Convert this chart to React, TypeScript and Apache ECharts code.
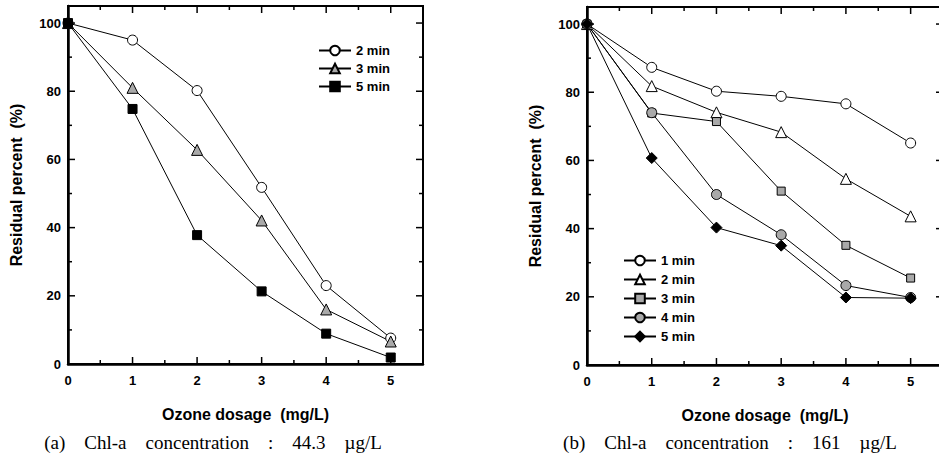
import React, { useEffect, useRef } from "react";
import * as echarts from "echarts";

// ---- data ----
const dosage = [0, 1, 2, 3, 4, 5];

const leftNames = ["2 min", "3 min", "5 min"];
const left2min = [100, 95, 80.2, 51.8, 23, 7.6];
const left3min = [100, 81, 62.8, 42.1, 16, 6.6];
const left5min = [100, 74.8, 37.8, 21.3, 8.9, 1.9];

const rightNames = ["1 min", "2 min", "3 min", "4 min", "5 min"];
const right1min = [100, 87.3, 80.3, 78.8, 76.6, 65.1];
const right2min = [100, 81.8, 74.1, 68.3, 54.6, 43.6];
const right3min = [100, 73.9, 71.4, 51.0, 35.1, 25.5];
const right4min = [100, 74.0, 50.0, 38.2, 23.3, 19.8];
const right5min = [100, 60.7, 40.3, 35.0, 19.8, 19.6];

// tick positions (axis values)
const majorX = [0, 1, 2, 3, 4, 5];
const minorX = [0.5, 1.5, 2.5, 3.5, 4.5];
const majorY = [0, 20, 40, 60, 80, 100];
const minorY = [10, 30, 50, 70, 90];

const xAxisTitle = "Ozone dosage  (mg/L)";
const yAxisTitle = "Residual percent  (%)";
const captionA = "(a)    Chl-a    concentration    :    44.3    µg/L";
const captionB = "(b)    Chl-a    concentration    :    161    µg/L";

const SANS = "'Liberation Sans', Arial, sans-serif";
const SERIF = "'Liberation Serif', 'Times New Roman', serif";

const pairs = (ys: number[]) => dosage.map((x, i) => [x, ys[i]]);

function xAxisFor(gridIndex: number) {
  return {
    type: "value",
    gridIndex,
    min: 0,
    max: 5.5,
    interval: 1,
    splitLine: { show: false },
    axisTick: { show: false },
    minorTick: { show: false },
    position: "bottom",
    axisLine: { show: true, onZero: false, lineStyle: { color: "#000", width: 2.5 } },
    axisLabel: {
      color: "#000",
      fontFamily: SANS,
      fontWeight: "bold",
      fontSize: 13,
      margin: 10,
      showMaxLabel: false,
      formatter: (v: number) => (Number.isInteger(v) && v <= 5 ? String(v) : ""),
    },
    name: xAxisTitle,
    nameLocation: "middle",
    nameGap: 42,
    nameTextStyle: { color: "#000", fontFamily: SANS, fontWeight: "bold", fontSize: 16 },
  };
}

function yAxisFor(gridIndex: number) {
  return {
    type: "value",
    gridIndex,
    min: 0,
    max: 105,
    interval: 20,
    splitLine: { show: false },
    axisTick: { show: false },
    minorTick: { show: false },
    position: "left",
    axisLine: { show: true, onZero: false, lineStyle: { color: "#000", width: 2.5 } },
    axisLabel: {
      color: "#000",
      fontFamily: SANS,
      fontWeight: "bold",
      fontSize: 13,
      margin: 7,
      showMaxLabel: false,
      formatter: (v: number) => (v % 20 === 0 && v <= 100 ? String(v) : ""),
    },
    name: yAxisTitle,
    nameLocation: "middle",
    nameGap: 44,
    nameRotate: 90,
    nameTextStyle: { color: "#000", fontFamily: SANS, fontWeight: "bold", fontSize: 16 },
  };
}

// tick marks drawn through the axes' own scales (side: 0 bottom, 1 top, 2 left, 3 right)
function tickData() {
  const out: number[][] = [];
  majorX.forEach((v) => { out.push([v, 0, 1]); out.push([v, 1, 1]); });
  minorX.forEach((v) => { out.push([v, 0, 0]); out.push([v, 1, 0]); });
  majorY.forEach((v) => { out.push([v, 2, 1]); out.push([v, 3, 1]); });
  minorY.forEach((v) => { out.push([v, 2, 0]); out.push([v, 3, 0]); });
  return out;
}

function tickSeries(axisIdx: number) {
  return {
    type: "custom",
    xAxisIndex: axisIdx,
    yAxisIndex: axisIdx,
    silent: true,
    clip: false,
    z: 3,
    dimensions: ["v", "side", "major"],
    encode: { x: 0, y: 1 },
    data: tickData(),
    renderItem: (params: any, api: any) => {
      const v = api.value(0);
      const side = api.value(1);
      const len = api.value(2) ? 7 : 4;
      const cs = params.coordSys;
      let shape;
      if (side === 0 || side === 1) {
        const px = api.coord([v, 0])[0];
        const y0 = side === 0 ? cs.y + cs.height : cs.y;
        shape = { x1: px, y1: y0, x2: px, y2: side === 0 ? y0 - len : y0 + len };
      } else {
        const py = api.coord([0, v])[1];
        const x0 = side === 2 ? cs.x : cs.x + cs.width;
        shape = { x1: x0, y1: py, x2: side === 2 ? x0 + len : x0 - len, y2: py };
      }
      return { type: "line", shape, style: { stroke: "#000", lineWidth: 1.5, fill: null } };
    },
  };
}

function makeSeries(
  id: string,
  label: string,
  ys: number[],
  symbol: string,
  size: number,
  fill: string,
  axisIdx: number
) {
  return {
    type: "line",
    name: id + "|" + label,
    data: pairs(ys),
    xAxisIndex: axisIdx,
    yAxisIndex: axisIdx,
    symbol,
    symbolSize: size,
    showSymbol: true,
    z: 4,
    lineStyle: { color: "#000", width: 1 },
    itemStyle: { color: fill, borderColor: "#000", borderWidth: 1 },
    emphasis: { disabled: true },
  };
}

const GRAY = "#a9a9a9";

export default function App() {
  const ref = useRef<HTMLDivElement>(null);
  useEffect(() => {
    if (!ref.current) return;
    const chart = echarts.init(ref.current, null, { renderer: "svg" });
    const legendText = {
      color: "#000",
      fontFamily: SANS,
      fontWeight: "bold",
      fontSize: 13,
      lineHeight: 13,
    };
    const leftSeries = [
      makeSeries("a", leftNames[0], left2min, "circle", 10, "#fff", 0),
      makeSeries("a", leftNames[1], left3min, "triangle", 11, GRAY, 0),
      makeSeries("a", leftNames[2], left5min, "rect", 9, "#000", 0),
    ];
    const rightSeries = [
      makeSeries("b", rightNames[0], right1min, "circle", 10, "#fff", 1),
      makeSeries("b", rightNames[1], right2min, "triangle", 11, "#fff", 1),
      makeSeries("b", rightNames[2], right3min, "rect", 8, GRAY, 1),
      makeSeries("b", rightNames[3], right4min, "circle", 10, GRAY, 1),
      makeSeries("b", rightNames[4], right5min, "diamond", 11, "#000", 1),
    ];
    const frame = { show: true, borderColor: "#000", borderWidth: 2, backgroundColor: "transparent" };
    chart.setOption({
      animation: false,
      backgroundColor: "#fff",
      grid: [
        { left: 68, top: 6, width: 355, height: 358, ...frame },
        { left: 587, top: 7, width: 356, height: 358, ...frame },
      ],
      xAxis: [xAxisFor(0), xAxisFor(1)],
      yAxis: [yAxisFor(0), yAxisFor(1)],
      legend: [
        {
          data: leftSeries.map((s) => s.name),
          orient: "vertical",
          left: 313,
          top: 39,
          itemWidth: 32,
          itemHeight: 12,
          itemGap: 5,
          selectedMode: false,
          textStyle: legendText,
          formatter: (n: string) => n.split("|")[1],
        },
        {
          data: rightSeries.map((s) => s.name),
          orient: "vertical",
          left: 618,
          top: 249,
          itemWidth: 32,
          itemHeight: 12,
          itemGap: 6,
          selectedMode: false,
          textStyle: legendText,
          formatter: (n: string) => n.split("|")[1],
        },
      ],
      graphic: [
        {
          type: "text",
          x: 213,
          y: 442,
          style: {
            text: captionA,
            fill: "#000",
            font: `19px ${SERIF}`,
            textAlign: "center",
            textVerticalAlign: "middle",
          },
        },
        {
          type: "text",
          x: 730,
          y: 442,
          style: {
            text: captionB,
            fill: "#000",
            font: `19px ${SERIF}`,
            textAlign: "center",
            textVerticalAlign: "middle",
          },
        },
      ],
      series: [tickSeries(0), tickSeries(1), ...leftSeries, ...rightSeries],
    });
    return () => chart.dispose();
  }, []);
  // the chart canvas is a little wider than the window so that the right plot's
  // frame (just past the window edge, as in the reference) stays inside it
  return (
    <div
      style={{ position: "absolute", left: 0, top: 0, width: 939, height: 460, overflow: "hidden", background: "#fff" }}
    >
      <div ref={ref} style={{ width: 960, height: 460 }} />
    </div>
  );
}
